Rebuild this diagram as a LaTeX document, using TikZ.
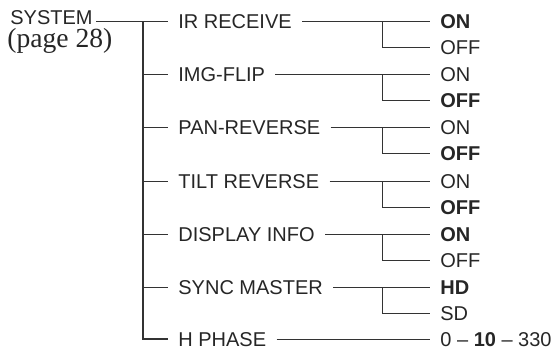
\documentclass[tikz,border=0pt]{standalone}
\usepackage{fontspec}
\setmainfont{Liberation Sans}
\newfontfamily\pagefont{Liberation Serif}

\begin{document}
\begin{tikzpicture}[x=0.5pt,y=-0.5pt,
    every node/.style={text=black!85},
    menu/.style={anchor=west, inner xsep=5pt, inner ysep=0pt, text height=7.2pt, text depth=0pt},
    choice/.style={menu},
    wire/.style={draw=black!80, line width=0.5pt}]
            % Fixed Bounding Box, in pixels of the reference
            \useasboundingbox (0,0) rectangle (553,350);

            \coordinate (trunk) at (143,0);
            \coordinate (split) at (382,0);

            % Top of the menu
            \node[menu, inner xsep=1.5pt] (system) at (7,17.5) {SYSTEM};
            \node[anchor=base west, inner sep=0pt, font=\pagefont\fontsize{13.8}{14}\selectfont] (page) at (7,47) {(page 28)};

            % Menu items
            \node[menu] (irrecv) at (168,21) {IR RECEIVE};
            \node[menu] (imgflip) at (168,74) {IMG-FLIP};
            \node[menu] (panrev) at (168,127) {PAN-REVERSE};
            \node[menu] (tiltrev) at (168,181) {TILT REVERSE};
            \node[menu] (dispinfo) at (168,234) {DISPLAY INFO};
            \node[menu] (syncmst) at (168,287) {SYNC MASTER};
            \node[menu] (hphase) at (168,339) {H PHASE};

            % Settings, default in bold
            \node[choice] (irrecvon) at (430,21) {\textbf{ON}};
            \node[choice] (irrecvoff) at (430,47) {OFF};
            \node[choice] (imgflipon) at (430,74) {ON};
            \node[choice] (imgflipoff) at (430,100) {\textbf{OFF}};
            \node[choice] (panrevon) at (430,127) {ON};
            \node[choice] (panrevoff) at (430,153) {\textbf{OFF}};
            \node[choice] (tiltrevon) at (430,181) {ON};
            \node[choice] (tiltrevoff) at (430,207) {\textbf{OFF}};
            \node[choice] (dispinfoon) at (430,234) {\textbf{ON}};
            \node[choice] (dispinfooff) at (430,260) {OFF};
            \node[choice] (syncmsthd) at (430,287) {\textbf{HD}};
            \node[choice] (syncmstsd) at (430,313) {SD};
            \node[choice] (hphaseval) at (430,339) {0 -- \textbf{10} -- 330};

            % Tree lines
            \draw[wire] (system.east |- irrecv.west) -- (irrecv.west);
            \draw[wire, line width=0.7pt] (trunk |- irrecv.west) |- (hphase.west);
            \draw[wire] (trunk |- imgflip.west) -- (imgflip.west);
            \draw[wire] (trunk |- panrev.west) -- (panrev.west);
            \draw[wire] (trunk |- tiltrev.west) -- (tiltrev.west);
            \draw[wire] (trunk |- dispinfo.west) -- (dispinfo.west);
            \draw[wire] (trunk |- syncmst.west) -- (syncmst.west);

            \draw[wire] (irrecv.east) -- (irrecvon.west);
            \draw[wire] (split |- irrecvon.west) |- (irrecvoff.west);
            \draw[wire] (imgflip.east) -- (imgflipon.west);
            \draw[wire] (split |- imgflipon.west) |- (imgflipoff.west);
            \draw[wire] (panrev.east) -- (panrevon.west);
            \draw[wire] (split |- panrevon.west) |- (panrevoff.west);
            \draw[wire] (tiltrev.east) -- (tiltrevon.west);
            \draw[wire] (split |- tiltrevon.west) |- (tiltrevoff.west);
            \draw[wire] (dispinfo.east) -- (dispinfoon.west);
            \draw[wire] (split |- dispinfoon.west) |- (dispinfooff.west);
            \draw[wire] (syncmst.east) -- (syncmsthd.west);
            \draw[wire] (split |- syncmsthd.west) |- (syncmstsd.west);
            \draw[wire] (hphase.east) -- (hphaseval.west);
        \end{tikzpicture}
\end{document}
